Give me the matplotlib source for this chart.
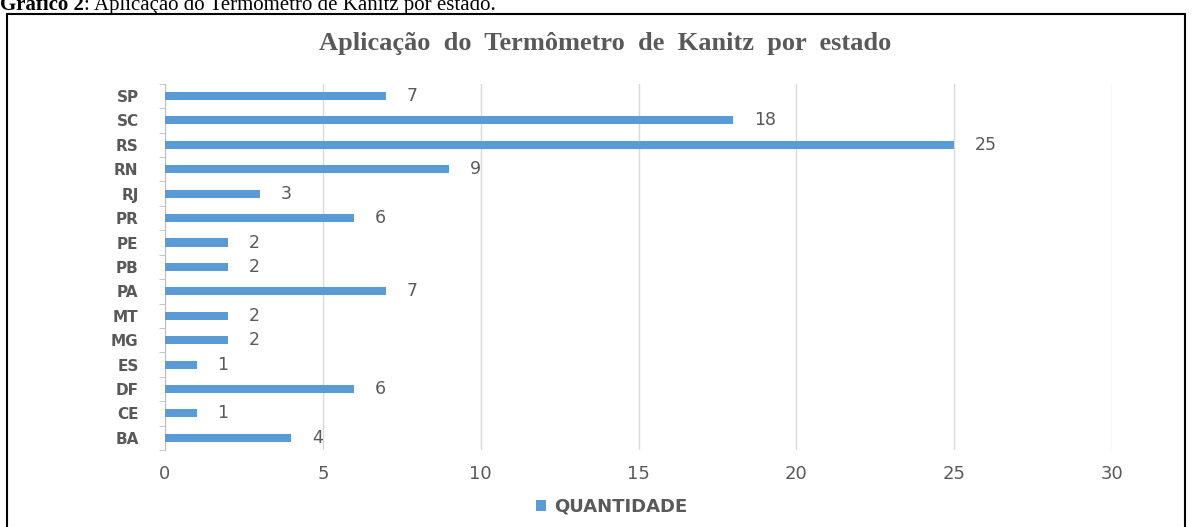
import matplotlib.pyplot as plt
from matplotlib.patches import Rectangle

estados = ['BA', 'CE', 'DF', 'ES', 'MG', 'MT', 'PA', 'PB', 'PE', 'PR', 'RJ', 'RN', 'RS', 'SC', 'SP']
quantidade = [4, 1, 6, 1, 2, 2, 7, 2, 2, 6, 3, 9, 25, 18, 7]

azul = '#5B9BD5'
cinza = '#595959'

fig = plt.figure(figsize=(11.93, 5.27), dpi=100)
ax = fig.add_axes([165 / 1193, 0.146, (1112 - 165) / 1193, 0.695])

y = range(len(estados))
ax.barh(y, quantidade, height=0.33, color=azul, label='QUANTIDADE', zorder=3)
for i, v in enumerate(quantidade):
    ax.text(v + 0.65, i, str(v), va='center', ha='left', fontsize=12.5, color=cinza)

ax.set_xlim(0, 30)
ax.set_ylim(-0.5, len(estados) - 0.5)
ax.set_xticks(range(0, 31, 5))
ax.set_yticks(list(y))
ax.set_yticklabels(estados, fontweight='bold', fontsize=11, color=cinza)
ax.set_yticks([i - 0.5 for i in range(len(estados) + 1)], minor=True)
ax.tick_params(axis='y', which='major', length=0, pad=19)
ax.tick_params(axis='y', which='minor', length=4.3, color='#BFBFBF', direction='out')
ax.tick_params(axis='x', length=0, labelsize=13, labelcolor=cinza, pad=11)
ax.grid(axis='x', color='#D9D9D9', linewidth=1, zorder=0)
for s in ['top', 'right', 'bottom']:
    ax.spines[s].set_visible(False)
ax.spines['left'].set_color('#BFBFBF')

fig.text(0.507, 0.917, 'Aplicação  do  Termômetro  de  Kanitz  por  estado',
         ha='center', va='center', fontsize=19, fontweight='bold', color=cinza,
         family='Liberation Serif')

leg = fig.legend(loc='center', bbox_to_anchor=(0.513, 0.038), frameon=False,
                 handlelength=0.55, handleheight=0.55, handletextpad=0.45,
                 prop={'weight': 'bold', 'size': 13})
for t in leg.get_texts():
    t.set_color(cinza)

# moldura do gráfico
fig.patches.append(Rectangle((7 / 1193, -0.01), 1178 / 1193, 1 - 14 / 527 + 0.01,
                             transform=fig.transFigure, fill=False,
                             edgecolor='black', linewidth=1.5))

# legenda do documento, cortada no topo
t1 = fig.text(0.0, 1 - 10 / 527, 'Gráfico 2', fontsize=15, fontweight='bold',
              family='Liberation Serif', va='baseline', ha='left')
ax.annotate(': Aplicação do Termômetro de Kanitz por estado.', xy=(1, 0), xycoords=t1,
            va='bottom', ha='left', fontsize=15, family='Liberation Serif',
            annotation_clip=False)

fig.savefig('out.png', dpi=100)
